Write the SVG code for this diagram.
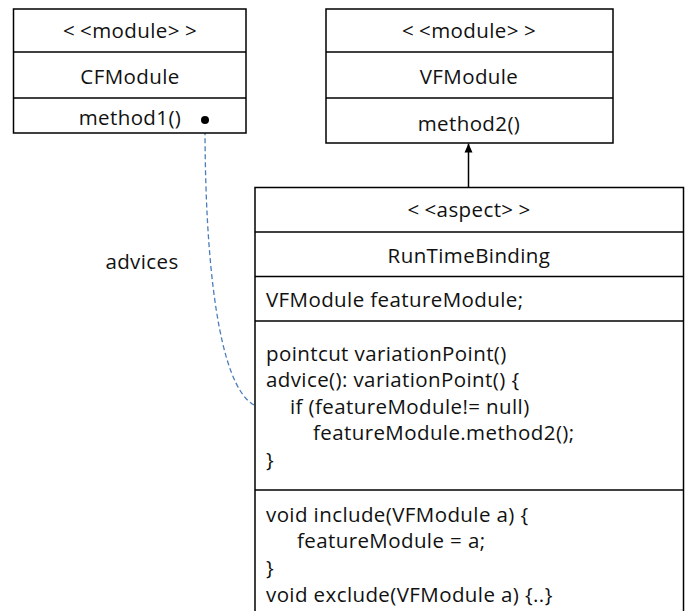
<svg xmlns="http://www.w3.org/2000/svg" width="691" height="611" viewBox="0 0 691 611">
  <style>
    .box { fill: #ffffff; stroke: #000000; stroke-width: 1.5; }
    .div { stroke: #000000; stroke-width: 1.5; fill: none; }
    text { font-family: "Open Sans", "Noto Sans", "Liberation Sans", sans-serif; font-size: 20.5px; letter-spacing: 0.4px; fill: #111111; }
    .c { text-anchor: middle; }
    .dep { fill: none; stroke: #4a7ebb; stroke-width: 1.3; stroke-dasharray: 5 3; }
  </style>
  <defs>
    <marker id="solidHead" markerWidth="10" markerHeight="10" refX="9" refY="5" orient="auto" markerUnits="userSpaceOnUse">
      <path d="M0,1 L9,5 L0,9 Z" fill="#000000"/>
    </marker>
  </defs>

  <!-- connectors -->
  <g id="connectors">
    <line x1="468.5" y1="187" x2="468.5" y2="143.5" stroke="#000000" stroke-width="1.5" marker-end="url(#solidHead)"/>
    <path class="dep" d="M254,405 C218,385 205,260 205,126"/>
    <path d="M200,132 L205,123.5 L210,132" fill="none" stroke="#4a7ebb" stroke-width="1.4"/>
    <text x="142" y="269" class="c">advices</text>
  </g>

  <!-- CFModule -->
  <g id="cfmodule">
    <rect class="box" x="13.5" y="9" width="232.5" height="124"/>
    <line class="div" x1="13.5" y1="52" x2="246" y2="52"/>
    <line class="div" x1="13.5" y1="98" x2="246" y2="98"/>
    <text x="130" y="38" class="c">&lt;<tspan dx="5">&lt;module&gt;</tspan><tspan dx="5">&gt;</tspan></text>
    <text x="130" y="84" class="c">CFModule</text>
    <text x="130" y="125" class="c">method1()</text>
    <circle cx="205" cy="120" r="4" fill="#000000"/>
  </g>

  <!-- VFModule -->
  <g id="vfmodule">
    <rect class="box" x="326" y="9" width="287" height="134"/>
    <line class="div" x1="326" y1="52" x2="613" y2="52"/>
    <line class="div" x1="326" y1="98" x2="613" y2="98"/>
    <text x="469" y="38" class="c">&lt;<tspan dx="5">&lt;module&gt;</tspan><tspan dx="5">&gt;</tspan></text>
    <text x="469" y="84" class="c">VFModule</text>
    <text x="469" y="131" class="c">method2()</text>
  </g>

  <!-- RunTimeBinding aspect -->
  <g id="runtimebinding">
    <rect class="box" x="255" y="187.5" width="428.5" height="440"/>
    <line class="div" x1="255" y1="232" x2="683.5" y2="232"/>
    <line class="div" x1="255" y1="276.5" x2="683.5" y2="276.5"/>
    <line class="div" x1="255" y1="321" x2="683.5" y2="321"/>
    <line class="div" x1="255" y1="490" x2="683.5" y2="490"/>
    <text x="469" y="217" class="c">&lt;<tspan dx="5">&lt;aspect&gt;</tspan><tspan dx="5">&gt;</tspan></text>
    <text x="469" y="263" class="c">RunTimeBinding</text>
    <text x="266" y="307">VFModule featureModule;</text>
    <text x="266" y="361">pointcut variationPoint()</text>
    <text x="266" y="387">advice(): variationPoint() {</text>
    <text x="290" y="414">if (featureModule!= null)</text>
    <text x="313" y="440">featureModule.method2();</text>
    <text x="266" y="467">}</text>
    <text x="266" y="522">void include(VFModule a) {</text>
    <text x="297" y="548">featureModule = a;</text>
    <text x="266" y="575">}</text>
    <text x="266" y="602">void exclude(VFModule a) {..}</text>
  </g>
</svg>
